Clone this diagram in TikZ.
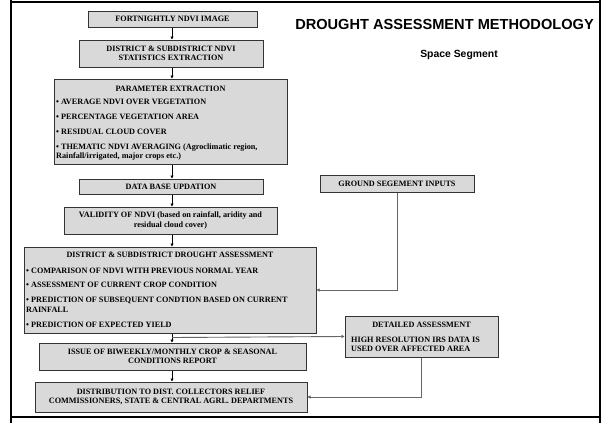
\documentclass[tikz,border=0pt]{standalone}
\usepackage{fontspec}
\setmainfont{Liberation Serif}
\newfontfamily\arialfont{Liberation Sans}
\usetikzlibrary{arrows.meta}
\definecolor{boxfill}{HTML}{D9D9D9}
\definecolor{boxline}{HTML}{333333}
\definecolor{conn}{HTML}{666666}
\tikzset{
  box/.style={draw=boxline, line width=1pt, fill=boxfill, inner sep=1pt, align=center,
    font=\fontsize{8.2}{9.6}\selectfont\bfseries},
  itemtxt/.style={anchor=west, inner sep=0pt, align=left, font=\fontsize{8.2}{9.6}\selectfont\bfseries},
  hdrtxt/.style={inner sep=0pt, font=\fontsize{8.2}{9.6}\selectfont\bfseries},
  flow/.style={draw=black, line width=0.8pt, -{Triangle[length=3pt,width=3pt]}},
  side/.style={draw=conn, line width=0.9pt, -{Triangle[length=3pt,width=3pt,fill=black]}},
  frame/.style={draw=black}
}
\begin{document}
\begin{tikzpicture}[x=1pt,y=-1pt]
\useasboundingbox (0,0) rectangle (602,423);
% frame
\draw[frame, line width=2.5pt] (11,0) -- (11,423);
\draw[frame, line width=2.5pt] (600,0) -- (600,423);
\draw[frame, line width=1.4pt] (11,2) -- (600,2);
\draw[frame, line width=1.4pt] (11,417) -- (600,417);
% title
\node[font=\arialfont\bfseries\fontsize{14.6}{16}\selectfont] (title) at (444.5,24) {DROUGHT ASSESSMENT METHODOLOGY};
\node[font=\arialfont\bfseries\fontsize{10.4}{12}\selectfont] (sub) at (459,55) {Space Segment};
% boxes
\node[box, minimum width=169pt, minimum height=16pt] (b1) at (172.5,19) {FORTNIGHTLY NDVI IMAGE};
\node[box, minimum width=184pt, minimum height=27pt] (b2) at (171,53.5) {DISTRICT \& SUBDISTRICT NDVI\\STATISTICS EXTRACTION};
\node[box, minimum width=233pt, minimum height=85pt] (b3) at (170.5,121.5) {};
\node[hdrtxt] (b3h) at (170.5,89) {PARAMETER EXTRACTION};
\node[itemtxt] (b3a) at (56,102) {• AVERAGE NDVI OVER VEGETATION};
\node[itemtxt] (b3b) at (56,117) {• PERCENTAGE VEGETATION AREA};
\node[itemtxt] (b3c) at (56,132) {• RESIDUAL CLOUD COVER};
\node[itemtxt] (b3d) at (56,152) {• THEMATIC NDVI AVERAGING (Agroclimatic region,\\Rainfall/irrigated, major crops etc.)};
\node[box, minimum width=184pt, minimum height=15pt] (b4) at (171,186.5) {DATA BASE UPDATION};
\node[box, minimum width=213pt, minimum height=27pt] (b5) at (170.5,220.5) {VALIDITY OF NDVI (based on rainfall, aridity and\\residual cloud cover)};
\node[box, minimum width=292pt, minimum height=86pt] (b6) at (170,290) {};
\node[hdrtxt] (b6h) at (170,255) {DISTRICT \& SUBDISTRICT DROUGHT ASSESSMENT};
\node[itemtxt] (b6a) at (26,270.5) {• COMPARISON OF NDVI WITH PREVIOUS NORMAL YEAR};
\node[itemtxt] (b6b) at (26,284.5) {• ASSESSMENT OF CURRENT CROP CONDITION};
\node[itemtxt] (b6c) at (26,305) {• PREDICTION OF SUBSEQUENT CONDTION BASED ON CURRENT\\RAINFALL};
\node[itemtxt] (b6d) at (26,325) {• PREDICTION OF EXPECTED YIELD};
\node[box, minimum width=267pt, minimum height=27pt] (b7) at (172.5,356.5) {ISSUE OF BIWEEKLY/MONTHLY CROP \& SEASONAL\\CONDITIONS REPORT};
\node[box, minimum width=272pt, minimum height=30pt] (b8) at (171,397) {DISTRIBUTION TO DIST. COLLECTORS RELIEF\\COMMISSIONERS, STATE \& CENTRAL AGRL. DEPARTMENTS};
\node[box, minimum width=154pt, minimum height=17pt] (gr) at (397,183.5) {GROUND SEGEMENT INPUTS};
\node[box, minimum width=153pt, minimum height=41pt] (det) at (421.5,336.5) {};
\node[hdrtxt] (deth) at (421.5,325) {DETAILED ASSESSMENT};
\node[itemtxt] (detb) at (351,344.5) {HIGH RESOLUTION IRS DATA IS\\USED OVER AFFECTED AREA};
% connectors
\coordinate (x0) at (172,0);
\draw[flow] (b1.south -| x0) -- (b2.north -| x0);
\draw[flow] (b2.south -| x0) -- (b3.north -| x0);
\draw[flow] (b3.south -| x0) -- (b4.north -| x0);
\draw[flow] (b4.south -| x0) -- (b5.north -| x0);
\draw[flow] (b5.south -| x0) -- (b6.north -| x0);
\draw[flow] (b6.south -| x0) -- (b7.north -| x0);
\draw[flow] (b7.south -| x0) -- (b8.north -| x0);
\draw[side] (b6.south -| x0) ++(0,4) -- (det.west);
\draw[side] (gr.south) |- (b6.east);
\draw[side] (det.south) |- (b8.east);
\end{tikzpicture}
\end{document}
